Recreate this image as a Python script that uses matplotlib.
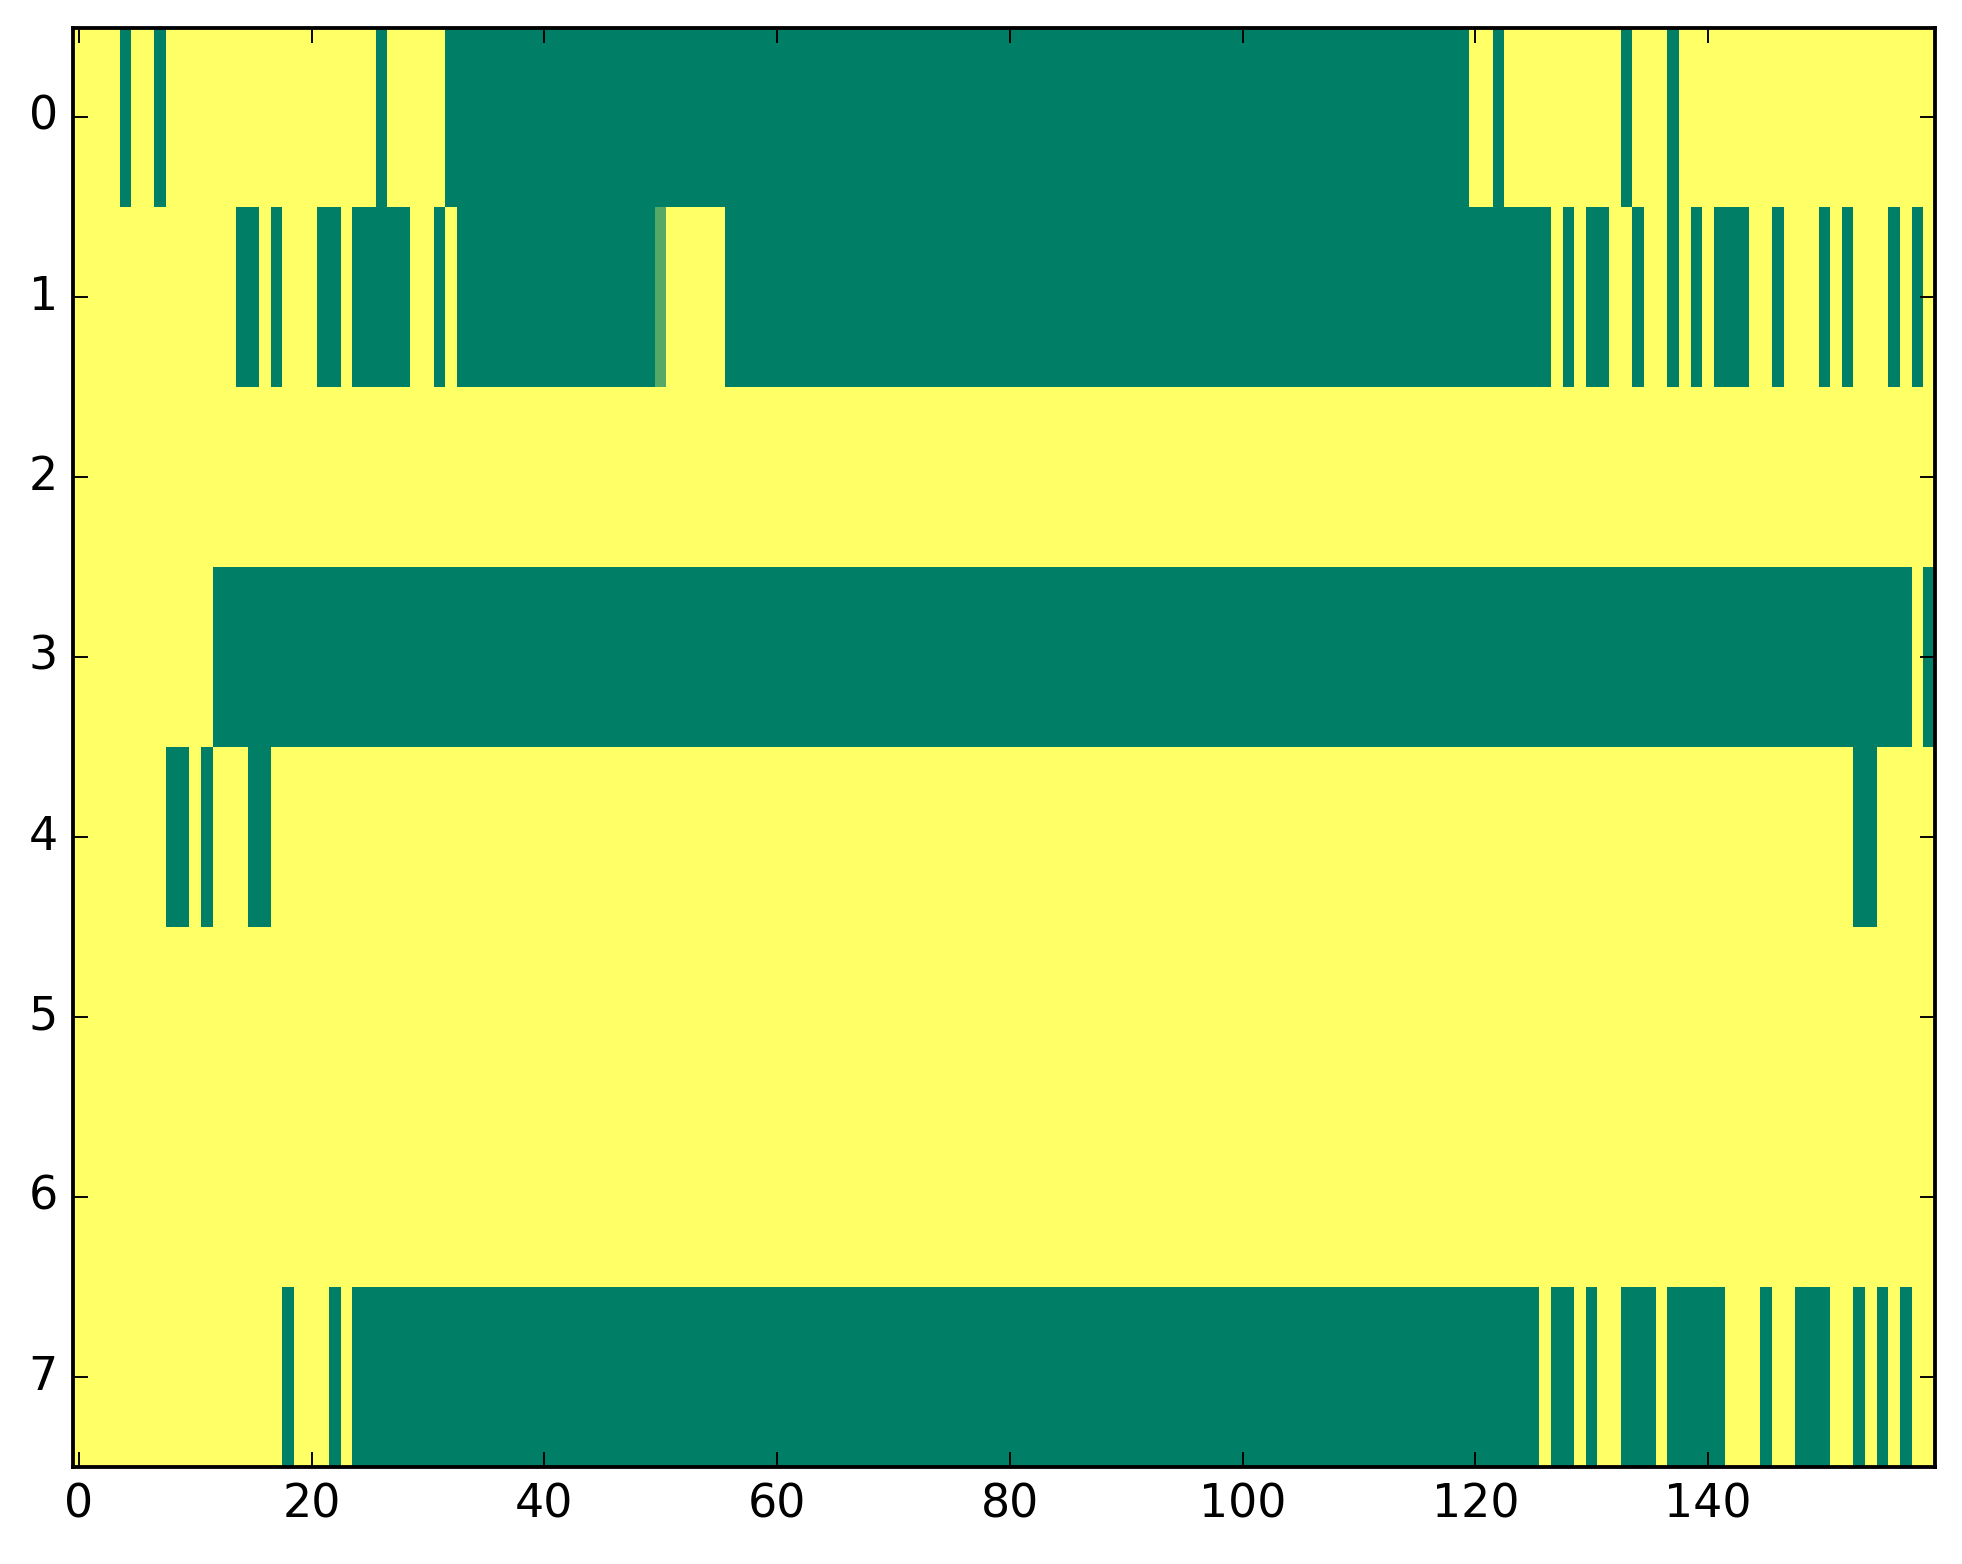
import numpy as np
import matplotlib
matplotlib.use("Agg")
import matplotlib.pyplot as plt

plt.style.use("classic")

n_rows = 8
n_cols = 160

# runs of zero-valued (green) cells per row, inclusive (start, end)
row0_runs = [(4, 4), (7, 7), (26, 26), (32, 119), (122, 122), (133, 133), (137, 137)]
row1_runs = [(14, 15), (17, 17), (21, 22), (24, 28), (31, 31), (33, 49), (56, 126),
             (128, 128), (130, 131), (134, 134), (137, 137), (139, 139), (141, 143),
             (146, 146), (150, 150), (152, 152), (156, 156), (158, 158)]
row2_runs = []
row3_runs = [(12, 157), (159, 159)]
row4_runs = [(8, 9), (11, 11), (15, 16), (153, 154)]
row5_runs = []
row6_runs = []
row7_runs = [(18, 18), (22, 22), (24, 125), (127, 128), (130, 130), (133, 135),
             (137, 141), (145, 145), (148, 150), (153, 153), (155, 155), (157, 157)]

# the one in-between cell
partial_cell = (1, 50, 0.33)

all_runs = [row0_runs, row1_runs, row2_runs, row3_runs,
            row4_runs, row5_runs, row6_runs, row7_runs]

grid = np.ones((n_rows, n_cols))
for r, runs in enumerate(all_runs):
    for a, b in runs:
        grid[r, a:b + 1] = 0.0
grid[partial_cell[0], partial_cell[1]] = partial_cell[2]

W, H, dpi = 1963, 1564, 275
fig = plt.figure(figsize=(W / dpi, H / dpi), dpi=dpi, facecolor="white")
ax = fig.add_axes([73.1 / W, 1 - 1467 / H, (1934.9 - 73.1) / W, (1467 - 27.5) / H])

ax.imshow(grid, cmap="summer", vmin=0, vmax=1, interpolation="nearest", aspect="auto")
ax.set_xlim(-0.5, n_cols - 0.5)
ax.set_ylim(n_rows - 0.5, -0.5)
ax.set_xticks(range(0, 141, 20))
ax.set_yticks(range(n_rows))
ax.tick_params(labelsize=12)

fig.savefig("out.png", dpi=dpi, facecolor="white")
